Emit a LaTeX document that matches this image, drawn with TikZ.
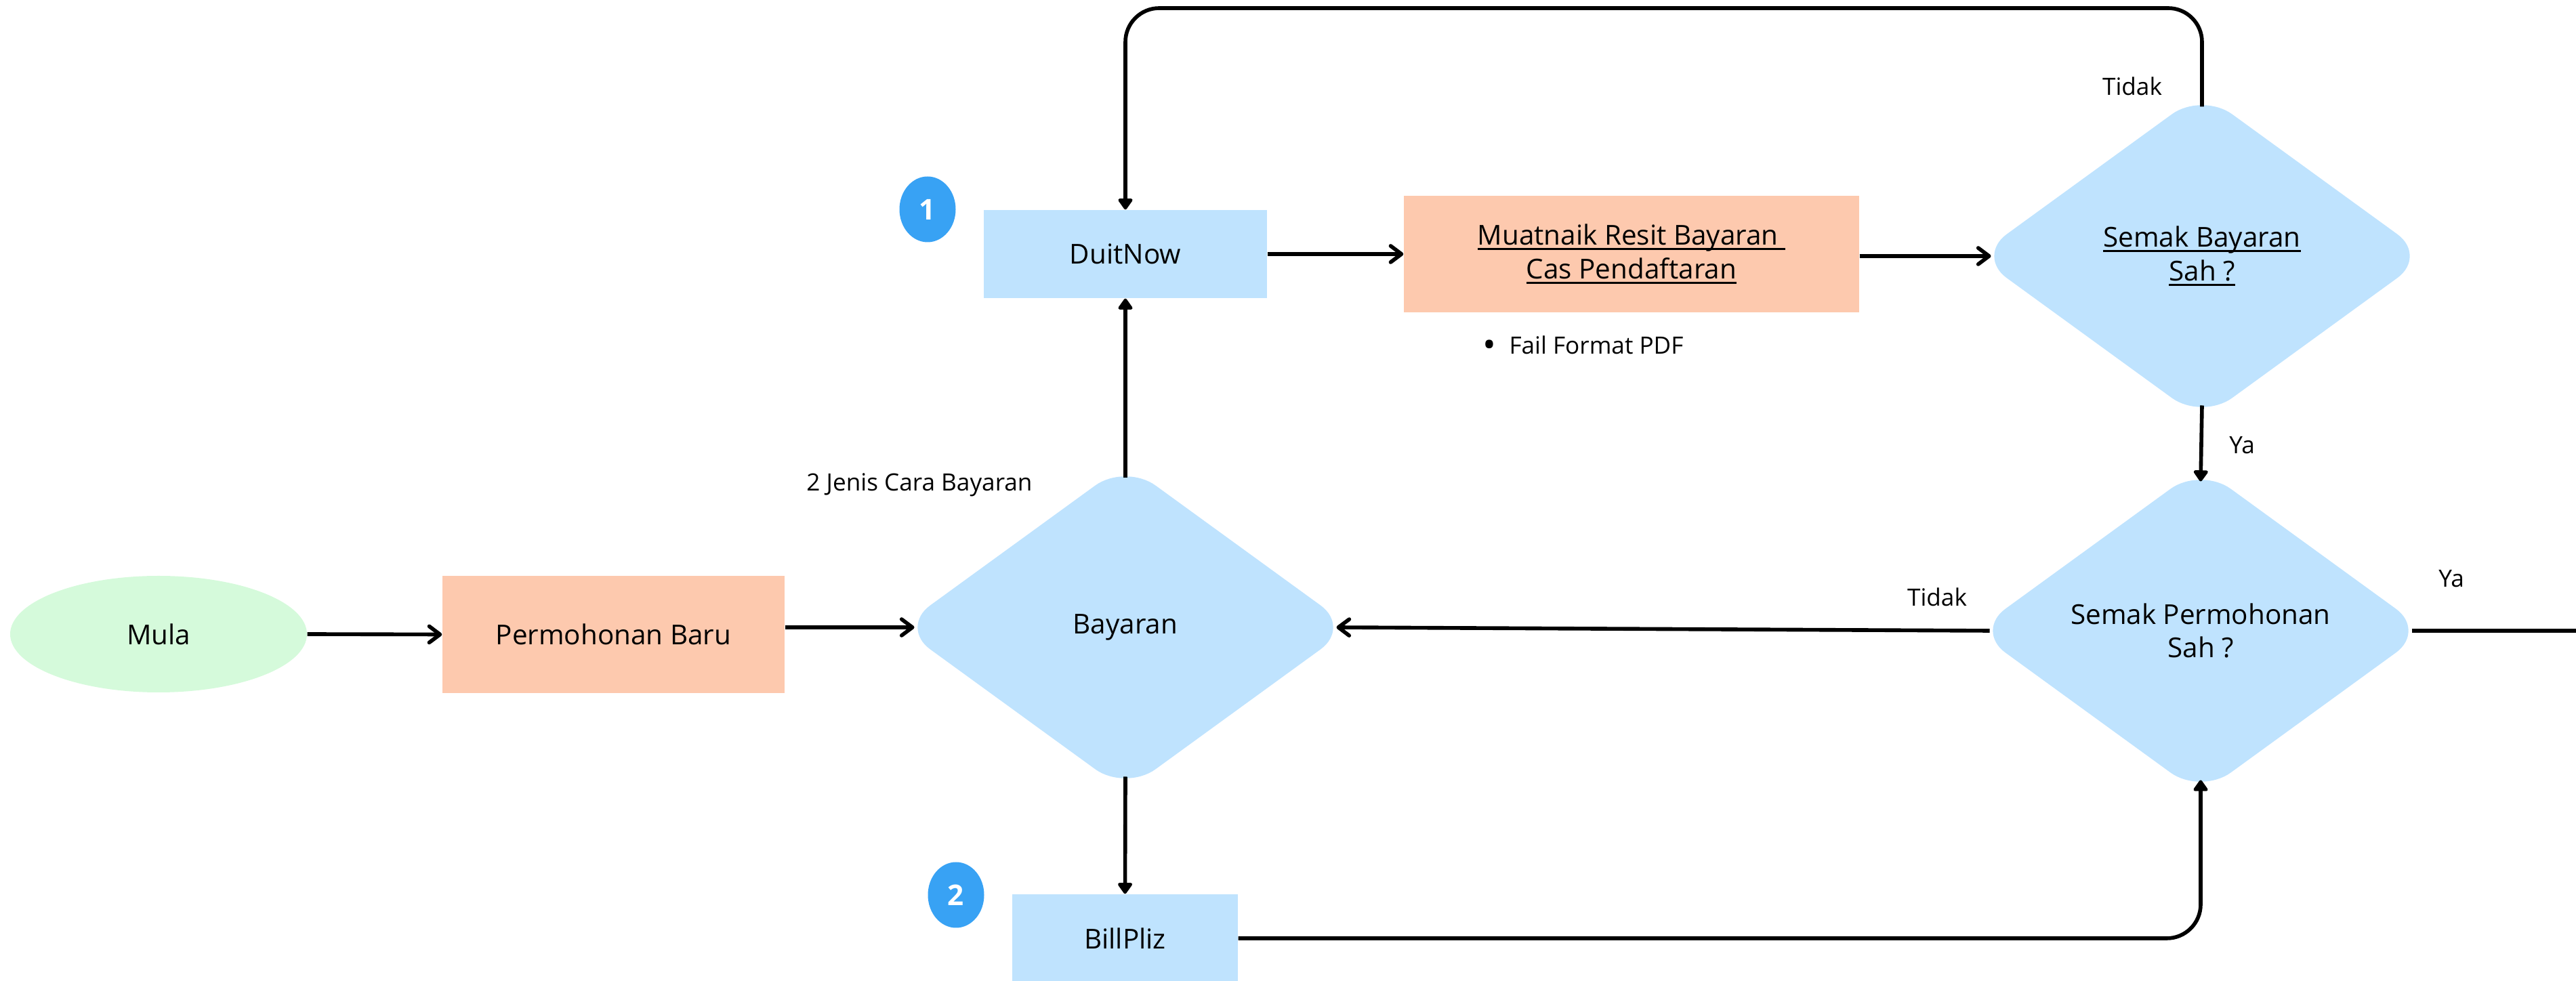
\documentclass[tikz,border=0pt]{standalone}
\usepackage{fontspec}
\setmainfont{Open Sans}
\usetikzlibrary{shapes.geometric, arrows.meta, positioning}
\definecolor{biru}{RGB}{191,227,254}
\definecolor{pic}{RGB}{253,201,174}
\definecolor{hijau}{RGB}{213,250,219}
\definecolor{nombor}{RGB}{56,162,244}
\newcommand{\garis}[1]{\setbox0\hbox{#1}\rlap{\rule[-0.75mm]{\wd0}{0.3mm}}\box0}
\tikzstyle{kot}=[rectangle,text=black,font=\fontsize{11.5}{14}\selectfont,align=center]
\tikzstyle{dec}=[diamond,fill=biru,minimum width=65.3mm,minimum height=47.1mm,rounded corners=5.5mm,outer sep=-1.5mm,inner sep=0pt,font=\fontsize{11.5}{14}\selectfont,align=center]
\tikzstyle{lbl}=[font=\fontsize{10}{12}\selectfont,anchor=base,inner sep=0pt]
\tikzstyle{num}=[ellipse,fill=nombor,text=white,minimum width=8.3mm,minimum height=9.7mm,inner sep=0pt,font=\bfseries\fontsize{12}{12}\selectfont]
\tikzstyle{ln}=[line width=1.6pt,rounded corners=5mm]
\tikzstyle{bar}=[ln,-{Straight Barb[length=1.6mm,width=2.4mm,round]}]
\tikzstyle{tri}=[ln,-{Triangle[length=1.8mm,width=2.4mm,round]}]

\begin{document}
\begin{tikzpicture}[x=1mm,y=-1mm]
    \useasboundingbox (0,0) rectangle (380.2,144.8);
    % kotak dan keputusan
    \node[kot,ellipse,fill=hijau,minimum width=43.8mm,minimum height=17.2mm] (mula) at (23.4,93.6) {Mula};
    \node[kot,fill=pic,minimum width=50.5mm,minimum height=17.3mm] (baru) at (90.55,93.65) {Permohonan Baru};
    \node[dec] (bayar) at (166.1,92.6) {Bayaran};
    \node[kot,fill=biru,minimum width=41.8mm,minimum height=13mm] (duit) at (166.1,37.5) {DuitNow};
    \node[kot,fill=pic,minimum width=67.2mm,minimum height=17.2mm] (resit) at (240.8,37.5) {\garis{Muatnaik Resit Bayaran\ }\\\garis{Cas Pendaftaran}};
    \node[dec] (sbayar) at (325,37.8) {\garis{Semak Bayaran}\\\garis{Sah ?}};
    \node[dec] (smohon) at (324.8,93.1) {Semak Permohonan\\Sah ?};
    \node[kot,fill=biru,minimum width=33.3mm,minimum height=13mm] (bill) at (166.05,138.5) {BillPliz};
    \node[num] (n1) at (136.9,30.9) {1};
    \node[num] (n2) at (141.1,132.1) {2};
    % label
    \node[lbl] (jenis) at (135.7,72.5) {2 Jenis Cara Bayaran};
    \node[lbl] (tidak1) at (314.7,14.1) {Tidak};
    \node[lbl] (ya1) at (330.9,67.0) {Ya};
    \node[lbl] (tidak2) at (285.9,89.5) {Tidak};
    \node[lbl] (ya2) at (361.8,86.7) {Ya};
    \node[lbl,anchor=base west] (pdf) at (218.8,52.3) {\raisebox{-0.45mm}{\fontsize{15}{15}\selectfont\textbullet}\hspace{1.9mm}Fail Format PDF};
    \coordinate (atas) at (0,1.2);
    \coordinate (luar) at (390,93.6);
    % anak panah
    \draw[bar] (mula.east) -- (baru.west);
    \draw[bar] (baru.east |- bayar.west) -- (bayar.west);
    \draw[tri] (bayar.north) -- (duit.south);
    \draw[tri] (bayar.south) -- (bill.north);
    \draw[bar] (duit.east) -- (resit.west);
    \draw[bar] (resit.east |- sbayar.west) -- (sbayar.west);
    \draw[tri] (sbayar.south) -- (smohon.north);
    \draw[tri] (sbayar.north) -- (sbayar.north |- atas) -| (duit.north);
    \draw[tri] (bill.east) -| (smohon.south);
    \draw[bar] (smohon.west) -- (bayar.east);
    \draw[ln] (smohon.east) -- (smohon.east -| luar);
\end{tikzpicture}
\end{document}
